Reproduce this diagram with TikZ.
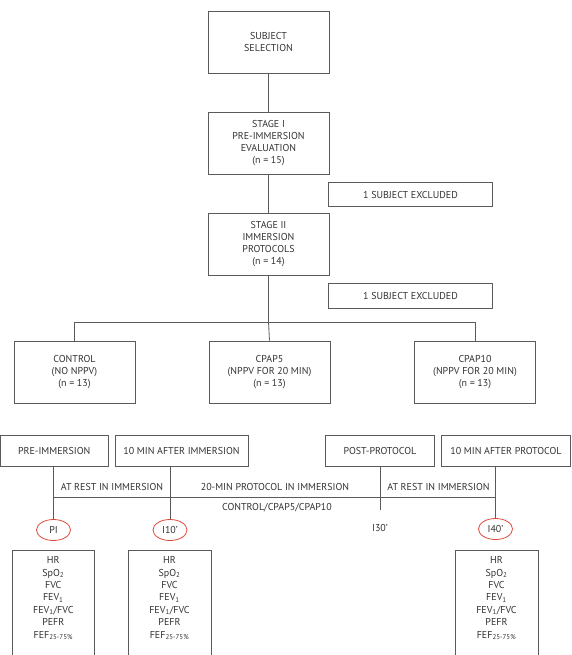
\documentclass[tikz,border=0pt]{standalone}
\usepackage{fontspec}
\setmainfont{PT Sans}
\usetikzlibrary{shapes.geometric}
\definecolor{lc}{HTML}{5A5A5A}
\definecolor{tc}{HTML}{333333}
\definecolor{rc}{HTML}{E04A3A}
\tikzset{
  box/.style={draw=lc, line width=0.8pt, text=tc, align=center, inner sep=0pt,
    font=\fontsize{10}{12.3}\selectfont},
  lbl/.style={text=tc, inner sep=0pt, font=\fontsize{10}{12.3}\selectfont},
  conn/.style={draw=lc, line width=0.8pt},
  circ/.style={ellipse, draw=rc, line width=0.8pt, text=tc, minimum width=34pt,
    minimum height=21pt, inner sep=0pt, font=\fontsize{10}{12.3}\selectfont},
  meas/.style={box, anchor=north, minimum width=82pt, minimum height=120pt},
  mtext/.style={text=tc, align=center, inner sep=0pt, anchor=north,
    font=\fontsize{10}{12.4}\selectfont}
}
\begin{document}
\begin{tikzpicture}[x=1pt,y=-1pt]
\useasboundingbox (0,0) rectangle (571,655);
\clip (0,0) rectangle (571,655);
% top flow
\node[box, minimum width=121pt, minimum height=62pt] (sel) at (268.5,42) {SUBJECT\\SELECTION};
\node[box, minimum width=121pt, minimum height=62pt] (s1) at (268.5,143) {STAGE I\\PRE-IMMERSION\\EVALUATION\\(n = 15)};
\node[box, minimum width=121pt, minimum height=62pt] (s2) at (268.5,244) {STAGE II\\IMMERSION\\PROTOCOLS\\(n = 14)};
\node[box, minimum width=164pt, minimum height=24.5pt] (ex1) at (410.5,194.5) {1 SUBJECT EXCLUDED};
\node[box, minimum width=164pt, minimum height=25pt] (ex2) at (410.5,295.5) {1 SUBJECT EXCLUDED};
\draw[conn] (sel) -- (s1);
\draw[conn] (s1) -- (s2);
% groups
\node[box, minimum width=121pt, minimum height=62pt] (ctrl) at (74.5,372) {CONTROL\\(NO NPPV)\\(n = 13)};
\node[box, minimum width=121pt, minimum height=62pt] (cp5) at (269.5,372) {CPAP5\\(NPPV FOR 20 MIN)\\(n = 13)};
\node[box, minimum width=121pt, minimum height=62pt] (cp10) at (475,372) {CPAP10\\(NPPV FOR 20 MIN)\\(n = 13)};
\coordinate (br) at (268.5,322);
\draw[conn] (s2) -- (br);
\draw[conn] (br) -- (cp5.north);
\draw[conn] (ctrl.north) |- (br);
\draw[conn] (cp10.north) |- (br);
% timeline boxes
\node[box, minimum width=107.5pt, minimum height=31pt] (pre) at (54.25,450.5) {PRE-IMMERSION};
\node[box, minimum width=133pt, minimum height=31pt] (a10) at (181.5,450.5) {10 MIN AFTER IMMERSION};
\node[box, minimum width=108.5pt, minimum height=31pt] (post) at (380,450.5) {POST-PROTOCOL};
\node[box, minimum width=129pt, minimum height=31pt] (p10) at (506,450.5) {10 MIN AFTER PROTOCOL};
% circles
\node[circ] (pi) at (53.5,530) {PI};
\node[circ] (i10) at (170,530) {I10’};
\node[lbl] (i30) at (380,528) {I30’};
\node[circ] (i40) at (495.5,529) {I40’};
\coordinate (i30t) at (380,510);
\draw[conn] (pre.south -| pi) -- (pi);
\draw[conn] (a10.south -| i10) -- (i10);
\draw[conn] (post.south) -- (i30t);
\draw[conn] (p10.south -| i40) -- (i40);
\coordinate (hl) at (53.5,497);
\coordinate (hr) at (495.5,497);
\draw[conn] (hl) -- (hr);
\node[lbl] (r1) at (112,487) {AT REST IN IMMERSION};
\node[lbl] (r2) at (275,487) {20-MIN PROTOCOL IN IMMERSION};
\node[lbl] (r3) at (438.5,487) {AT REST IN IMMERSION};
\node[lbl] (r4) at (277,508) {CONTROL/CPAP5/CPAP10};
% measurement boxes
\node[meas] (m1) at (53.3,549.5) {};
\node[meas, minimum width=83pt] (m2) at (169.5,549.5) {};
\node[meas, minimum width=83pt] (m3) at (496.5,549.5) {};
\foreach \b in {m1,m2,m3}{
  \node[mtext] at ([yshift=-7pt]\b.north) {HR\\SpO\textsubscript{2}\\FVC\\FEV\textsubscript{1}\\FEV\textsubscript{1}/FVC\\PEFR\\FEF\textsubscript{25-75\%}};
}
\end{tikzpicture}
\end{document}
